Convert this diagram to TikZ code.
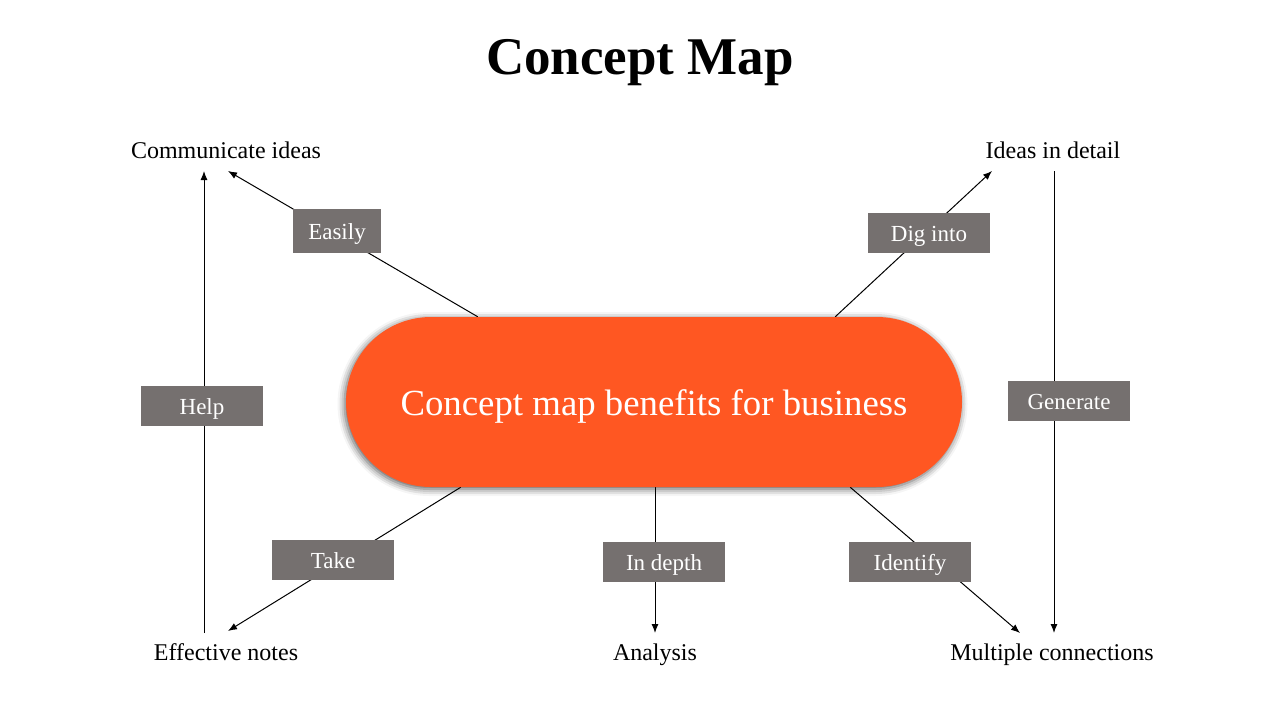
\documentclass[tikz,border=0pt]{standalone}
\usepackage{fontspec}
\setmainfont{Liberation Serif}
\usetikzlibrary{positioning,arrows.meta,shadows.blur,backgrounds}
\definecolor{pillorange}{RGB}{255,87,34}
\definecolor{taggray}{RGB}{117,112,111}
\tikzset{
  link/.style={line width=1pt, black},
  linkarrow/.style={link, -{Latex[length=9pt, width=7pt]}},
  tag/.style={fill=taggray, text=white, minimum width=122pt, minimum height=40pt, inner sep=0pt, text height=17pt, text depth=0pt, font=\fontsize{23}{26}\selectfont},
  leaf/.style={anchor=base, inner sep=0pt, font=\fontsize{24}{28}\selectfont},
  pill/.style={fill=pillorange, text=white, rounded corners=85pt, minimum width=616pt, minimum height=170pt, inner sep=0pt, text height=26pt, text depth=0pt, font=\fontsize{36.8}{40}\selectfont,
    blur shadow={shadow xshift=-1.5pt, shadow yshift=-2pt, shadow blur radius=7pt, shadow opacity=65}}
}

\begin{document}
\begin{tikzpicture}[x=1pt, y=-1pt]
  \useasboundingbox (0,0) rectangle (1280,720);

  \node[anchor=base, inner sep=0pt, font=\fontsize{53}{60}\selectfont\bfseries] (title) at (640,74) {Concept Map};

  % central concept
  \node[pill] (pill) at (654,402) {Concept map benefits for business};

  % outer concepts
  \node[leaf] (comm) at (226,158) {Communicate ideas};
  \node[leaf] (detail) at (1053,158) {Ideas in detail};
  \node[leaf] (notes) at (226,660) {Effective notes};
  \node[leaf] (analysis) at (655,660) {Analysis};
  \node[leaf] (multi) at (1052,660) {Multiple connections};

  \coordinate (commtip) at (228,171);
  \coordinate (helptip) at (204,171);
  \coordinate (helpfoot) at (204,633);
  \coordinate (detailtip) at (992,171);
  \coordinate (genfoot) at (1054,171);
  \coordinate (gentip) at (1054,633);
  \coordinate (notestip) at (228,631);
  \coordinate (analysistip) at (655,633);
  \coordinate (multitip) at (1020,633);

  % linking phrases
  \node[tag, minimum width=88pt, minimum height=44pt] (easily) at (337,231) {Easily};
  \node[tag] (dig) at (929,233) {Dig into};
  \node[tag] (help) at (202,406) {Help};
  \node[tag] (generate) at (1069,401) {Generate};
  \node[tag] (take) at (333,560) {Take};
  \node[tag] (depth) at (664,562) {In depth};
  \node[tag] (identify) at (910,562) {Identify};

  % links run behind the tags
  \begin{scope}[on background layer]
    \draw[linkarrow] ([xshift=132pt]pill.north west) -- (commtip);
    \draw[linkarrow] ([xshift=-127pt]pill.north east) -- (detailtip);
    \draw[linkarrow] ([xshift=115pt]pill.south west) -- (notestip);
    \draw[linkarrow] ([xshift=-112pt]pill.south east) -- (multitip);
    \draw[linkarrow] (pill.south -| analysistip) -- (analysistip);
    \draw[linkarrow] (helpfoot) -- (helptip);
    \draw[linkarrow] (genfoot) -- (gentip);
  \end{scope}
\end{tikzpicture}
\end{document}
